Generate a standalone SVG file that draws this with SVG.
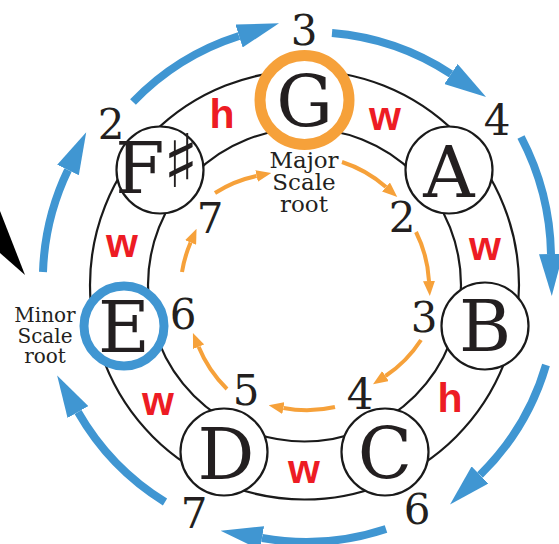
<svg xmlns="http://www.w3.org/2000/svg" width="559" height="544" viewBox="0 0 559 544">
<style>
.ring{fill:none;stroke:#1a1a1a;stroke-width:2.2}
.node{fill:#fff;stroke:#1a1a1a;stroke-width:2.2}
.let{font-family:"DejaVu Serif","Liberation Serif",serif;font-size:71px;fill:#231f20;text-anchor:middle}
.num{font-family:"DejaVu Serif","Liberation Serif",serif;font-size:42px;fill:#231f20;text-anchor:middle}
.lbl{font-family:"DejaVu Serif","Liberation Serif",serif;fill:#231f20;text-anchor:middle}
.iv{font-family:"Liberation Sans",Arial,sans-serif;font-weight:bold;font-size:41px;fill:#ed1c24;text-anchor:middle}
.blue{fill:none;stroke:#4096d2;stroke-width:8;marker-end:url(#bh)}
.orange{fill:none;stroke:#f6a13a;stroke-width:4;marker-end:url(#oh)}
</style>
<defs>
<marker id="bh" markerUnits="userSpaceOnUse" viewBox="0 0 42 24" markerWidth="42" markerHeight="24" refX="0" refY="12" orient="auto"><path d="M0,0 L42,12 L0,24 z" fill="#4096d2"/></marker>
<marker id="oh" markerUnits="userSpaceOnUse" viewBox="0 0 15 12" markerWidth="15" markerHeight="12" refX="0" refY="6" orient="auto"><path d="M0,0 L15,6 L0,12 z" fill="#f6a13a"/></marker>
</defs>
<rect width="559" height="544" fill="#fff"/>
<g id="rings">
<circle class="ring" cx="304.5" cy="285" r="214.5"/>
<circle class="ring" cx="304.5" cy="285" r="156.5"/>
</g>
<g id="connectors">
<path class="blue" d="M165,502 A254,254 0 0 1 78,412"/>
<path class="blue" d="M43,272 A254,254 0 0 1 68,170"/>
<path class="blue" d="M133,102 A254,254 0 0 1 239,36"/>
<path class="blue" d="M332,33 A254,254 0 0 1 451,74"/>
<path class="blue" d="M521,137 A262,262 0 0 1 551,254"/>
<path class="blue" d="M546,365 A254,254 0 0 1 480,475"/>
<path class="blue" d="M386,529 A254,254 0 0 1 262,538"/>
<path class="orange" d="M342,162 A125,125 0 0 1 386,187"/>
<path class="orange" d="M416,232 A125,125 0 0 1 429,281"/>
<path class="orange" d="M421,340 A125,125 0 0 1 385.5,376"/>
<path class="orange" d="M335,407 A125,125 0 0 1 283.4,408"/>
<path class="orange" d="M227,389 A125,125 0 0 1 198.6,346.8"/>
<path class="orange" d="M182,272 A125,125 0 0 1 190.6,242.5"/>
<path class="orange" d="M215,193 A125,125 0 0 1 256.6,176"/>
<polygon points="0,211 25,275 0,253" fill="#000"/>
</g>
<g id="intervals">
<text class="iv" x="222" y="128">h</text>
<text class="iv" x="385" y="130">w</text>
<text class="iv" x="485" y="260">w</text>
<text class="iv" x="450" y="412">h</text>
<text class="iv" x="304" y="483">w</text>
<text class="iv" x="158" y="415">w</text>
<text class="iv" x="122" y="257">w</text>
</g>
<g id="node-G">
<circle cx="304.5" cy="100" r="44.5" fill="#fff" stroke="#f6a13a" stroke-width="11"/>
<text class="let" x="304.5" y="126">G</text>
<text class="lbl" font-size="23" x="304" y="168">Major</text>
<text class="lbl" font-size="23" x="304" y="190">Scale</text>
<text class="lbl" font-size="23" x="304" y="212">root</text>
</g>
<g id="node-A">
<circle class="node" cx="449" cy="170" r="43.5"/>
<text class="let" x="449" y="197">A</text>
</g>
<g id="node-B">
<circle class="node" cx="485" cy="326" r="43.5"/>
<text class="let" x="485" y="351">B</text>
</g>
<g id="node-C">
<circle class="node" cx="385" cy="452" r="43.5"/>
<text class="let" x="385" y="478">C</text>
</g>
<g id="node-D">
<circle class="node" cx="224" cy="452" r="43.5"/>
<text class="let" x="226" y="479">D</text>
</g>
<g id="node-E">
<circle cx="124" cy="326" r="40" fill="#fff" stroke="#4096d2" stroke-width="9"/>
<text class="let" x="124" y="352">E</text>
<text class="lbl" font-size="20" x="45" y="322">Minor</text>
<text class="lbl" font-size="20" x="45" y="343">Scale</text>
<text class="lbl" font-size="20" x="45" y="363">root</text>
</g>
<g id="node-Fsharp">
<circle class="node" cx="160" cy="170" r="43.5"/>
<text class="let" font-size="56"><tspan x="140" y="193">F</tspan><tspan x="181" y="187" font-family="DejaVu Sans,sans-serif" font-size="74">♯</tspan></text>
</g>
<g id="numbers">
<text class="num" x="304" y="45">3</text>
<text class="num" x="497" y="135">4</text>
<text class="num" x="111" y="139">2</text>
<text class="num" x="417" y="524">6</text>
<text class="num" x="194" y="528">7</text>
<text class="num" x="402" y="232">2</text>
<text class="num" x="424" y="332">3</text>
<text class="num" x="360" y="409">4</text>
<text class="num" x="246" y="405">5</text>
<text class="num" x="183" y="329">6</text>
<text class="num" x="210" y="233">7</text>
</g>
</svg>
